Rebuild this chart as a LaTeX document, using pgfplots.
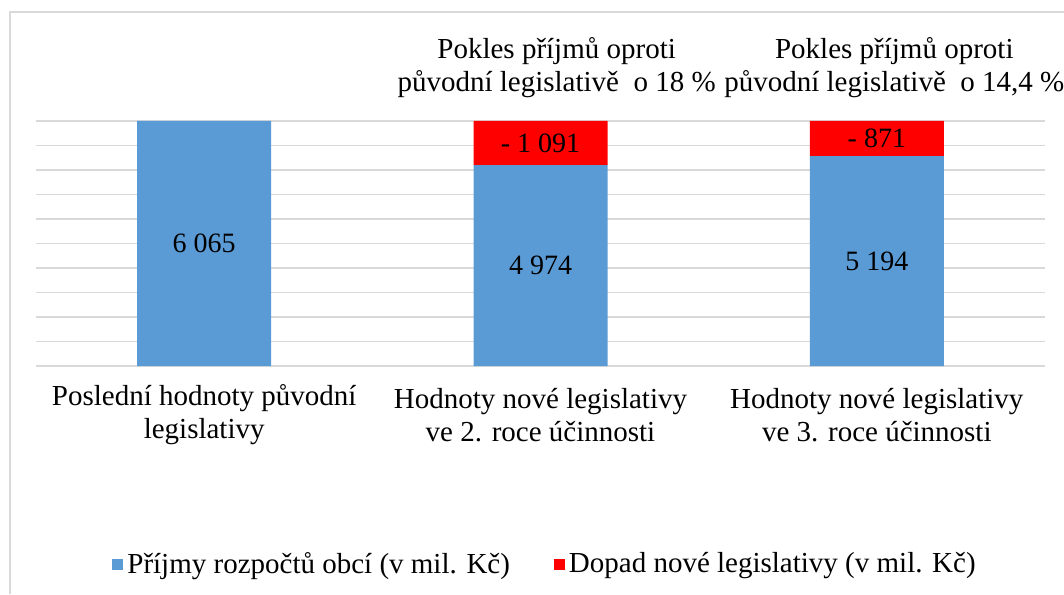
\documentclass[border=0pt]{standalone}
\usepackage{fontspec}
\setmainfont{Liberation Serif}
\usepackage{pgfplots}
\pgfplotsset{compat=1.18}
\definecolor{prijmy}{HTML}{5B9BD5}
\definecolor{dopad}{HTML}{FF0000}
\definecolor{mrizka}{HTML}{D9D9D9}

\pgfplotsset{spolecne/.style={
    at={(18pt,114pt)}, anchor=south west,
    scale only axis, width=504.5pt, height=122.5pt,
    xmin=-0.5, xmax=2.5, ymin=0, ymax=6065, clip=false}}

\begin{document}
\fontsize{14.5}{16.5}\selectfont
\begin{tikzpicture}
\path[use as bounding box] (0,0) rectangle (532pt,297pt);
\draw[mrizka, line width=0.8pt] (5pt,0) -- (5pt,291pt) -- (532pt,291pt);
\begin{axis}[
    spolecne,
    ybar stacked, bar width=67pt,
    xtick={0,1,2},
    xticklabels={{Poslední hodnoty původní\\legislativy},
                 {Hodnoty nové legislativy\\ve 2. roce účinnosti},
                 {Hodnoty nové legislativy\\ve 3. roce účinnosti}},
    xticklabel style={align=center, anchor=center, yshift=-24.5pt,
        font=\fontsize{14.5}{16.5}\selectfont},
    ytick={0,606.5,1213,1819.5,2426,3032.5,3639,4245.5,4852,5458.5,6065},
    yticklabels={},
    ymajorgrids, grid style={mrizka, line width=0.8pt},
    axis line style={draw=none}, tick style={draw=none},
    legend columns=2,
    legend style={draw=none, fill=none, at={(0.5055,-0.812)}, anchor=center,
        font=\fontsize{14.5}{16.5}\selectfont,
        /tikz/every even column/.append style={column sep=20pt}},
    legend image code/.code={\fill[#1] (0pt,-2.75pt) rectangle (5.5pt,2.75pt);},
]
\addplot[fill=prijmy, draw=none]
    coordinates {(0,6065) (1,4974) (2,5194)};
\addplot[fill=dopad, draw=none]
    coordinates {(0,0) (1,1091) (2,871)};
\legend{Příjmy rozpočtů obcí (v mil. Kč), Dopad nové legislativy (v mil. Kč)}

\node[align=center, anchor=center, yshift=26.5pt] at (axis cs:1.048,6065)
    {Pokles příjmů oproti\\původní legislativě\ \ o 18 \%};
\node[align=center, anchor=center, yshift=26.5pt] at (axis cs:2.052,6065)
    {Pokles příjmů oproti\\původní legislativě\ \ o 14,4 \%};
\end{axis}

% popisky hodnot uprostred useku
\begin{axis}[spolecne, hide axis]
\addplot[only marks, mark=none, nodes near coords, point meta=explicit symbolic,
    every node near coord/.append style={anchor=center, inner sep=0pt,
        font=\fontsize{14}{16}\selectfont}]
    coordinates {(0,3032.5)[6 065] (1,2487)[4 974] (2,2597)[5 194]
                 (1,5519.5)[- 1 091] (2,5629.5)[- 871]};
\end{axis}
\end{tikzpicture}
\end{document}
